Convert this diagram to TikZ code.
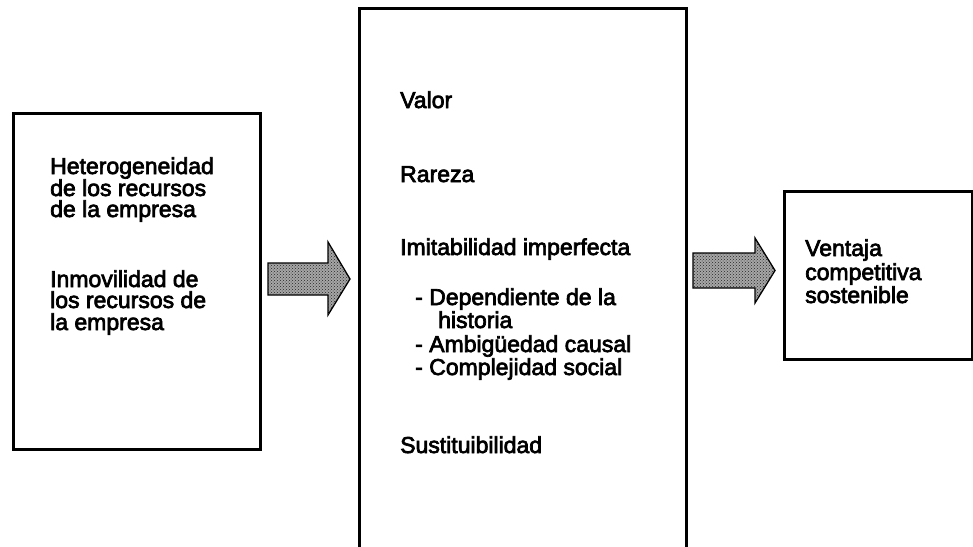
\documentclass[tikz,border=0pt]{standalone}
\usepackage{fontspec}
\setmainfont{Liberation Sans}
\usetikzlibrary{patterns}
% slightly heavier lettering: fill and stroke the glyph outlines
\newcommand\heavytext[1]{\special{pdf:literal 2 Tr 0.7 w}#1\special{pdf:literal 0 Tr}}
\begin{document}
\begin{tikzpicture}[x=1pt,y=-1pt,
  frame/.style={draw=black,line width=3pt},
  blockarrow/.style={draw=black,line width=1.3pt,line join=miter,fill=black!35,
    postaction={pattern=crosshatch dots,pattern color=black!85}},
  txt/.style={anchor=base west,inner sep=0pt,font=\fontsize{23}{23}\selectfont}]
\useasboundingbox (0,0) rectangle (973,546);
\clip (0,0) rectangle (973,546);

% boxes
\node[frame,anchor=north west,minimum width=247pt,minimum height=336pt,inner sep=0pt] (left) at (12,112) {};
\node[frame,anchor=north west,minimum width=327pt,minimum height=580pt,inner sep=0pt] (mid) at (358,7) {};
\node[frame,anchor=north west,minimum width=188pt,minimum height=168pt,inner sep=0pt] (right) at (783,190) {};

% block arrows between the boxes
\draw[blockarrow] (268,263) -- (328,263) -- (328,242) -- (350,279) -- (328,315) -- (328,295) -- (268,295) -- cycle;
\draw[blockarrow] (693,253) -- (755,253) -- (755,238) -- (775,270.5) -- (755,303) -- (755,288) -- (693,288) -- cycle;

% left box text
\node[txt] (l1) at (50,174) {\heavytext{Heterogeneidad}};
\node[txt] (l2) at (50,196) {\heavytext{de los recursos}};
\node[txt] (l3) at (50,217) {\heavytext{de la empresa}};
\node[txt] (l4) at (50,287) {\heavytext{Inmovilidad de}};
\node[txt] (l5) at (50,308) {\heavytext{los recursos de}};
\node[txt] (l6) at (50,330) {\heavytext{la empresa}};

% middle box text
\node[txt] (m1) at (400,108) {\heavytext{Valor}};
\node[txt] (m2) at (400,182) {\heavytext{Rareza}};
\node[txt] (m3) at (400,255) {\heavytext{Imitabilidad imperfecta}};
\node[txt] (m4) at (415,305) {\heavytext{- Dependiente de la}};
\node[txt] (m5) at (438,328) {\heavytext{historia}};
\node[txt] (m6) at (415,352) {\heavytext{- Ambigüedad causal}};
\node[txt] (m7) at (415,375) {\heavytext{- Complejidad social}};
\node[txt] (m8) at (400,453) {\heavytext{Sustituibilidad}};

% right box text
\node[txt] (r1) at (805,256) {\heavytext{Ventaja}};
\node[txt] (r2) at (805,280) {\heavytext{competitiva}};
\node[txt] (r3) at (805,303) {\heavytext{sostenible}};
\end{tikzpicture}
\end{document}
